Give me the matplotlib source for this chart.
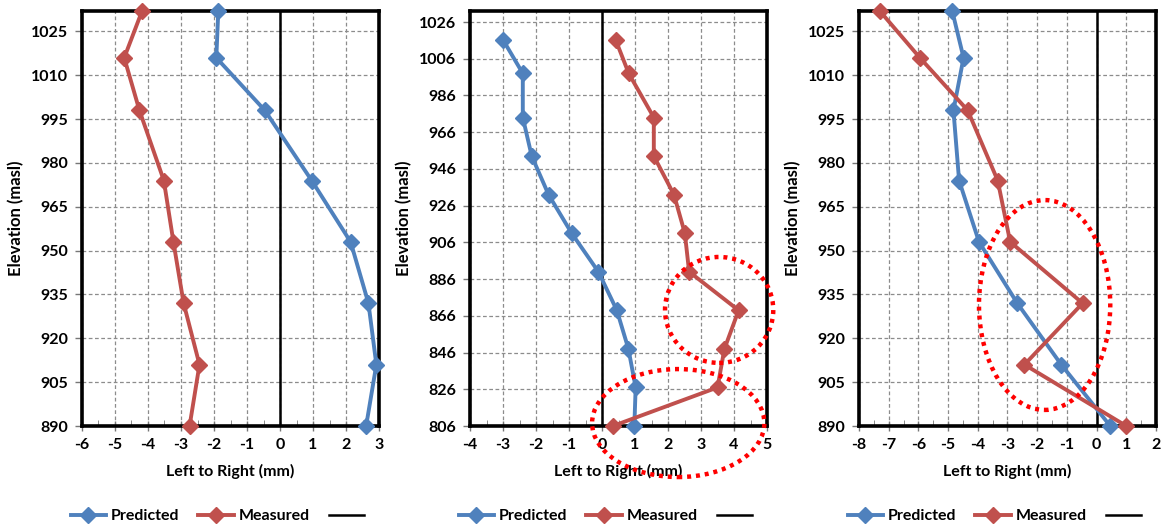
"""
Predicted vs measured left-to-right displacement along elevation, three sections
"""

import matplotlib.pyplot as plt
from matplotlib.patches import Ellipse
from matplotlib.lines import Line2D
from matplotlib.ticker import MultipleLocator

plt.rcParams['font.family'] = ['Lato', 'DejaVu Sans']
plt.rcParams['axes.unicode_minus'] = False

BLUE = '#4F81BD'
RED = '#C0504D'

# panel 1
elev_1 = [1032, 1016, 998, 974, 953, 932, 911, 890]
pred_1 = [-1.87, -1.93, -0.46, 0.96, 2.14, 2.68, 2.92, 2.61]
meas_1 = [-4.18, -4.72, -4.26, -3.52, -3.23, -2.92, -2.44, -2.74]

# panel 2
elev_2 = [1016, 998, 974, 953, 932, 911, 890, 869, 848, 827, 806]
pred_2 = [-2.99, -2.40, -2.40, -2.13, -1.62, -0.92, -0.11, 0.45, 0.80, 1.02, 0.98]
meas_2 = [0.42, 0.81, 1.57, 1.57, 2.18, 2.51, 2.64, 4.14, 3.71, 3.50, 0.33]

# panel 3
elev_3 = [1032, 1016, 998, 974, 953, 932, 911, 890]
pred_3 = [-4.86, -4.48, -4.82, -4.63, -3.96, -2.67, -1.19, 0.46]
meas_3 = [-7.30, -5.95, -4.34, -3.33, -2.91, -0.47, -2.43, 1.00]

panels = [
    dict(elev=elev_1, pred=pred_1, meas=meas_1, xlim=(-6, 3), ylim=(890, 1032),
         ystep=15, left=82, ellipses=[]),
    dict(elev=elev_2, pred=pred_2, meas=meas_2, xlim=(-4, 5), ylim=(806, 1032),
         ystep=20, left=470,
         ellipses=[(3.55, 869.2, 3.28, 57.7), (2.31, 807.6, 5.22, 58.8)]),
    dict(elev=elev_3, pred=pred_3, meas=meas_3, xlim=(-8, 2), ylim=(890, 1032),
         ystep=15, left=859, ellipses=[(-1.75, 931.4, 4.42, 71.8)]),
]

W, H = 1163, 528
fig = plt.figure(figsize=(W / 100, H / 100), dpi=100)

for p in panels:
    ax = fig.add_axes([p['left'] / W, (H - 426) / H, 297 / W, 415 / H])
    ax.set_xlim(*p['xlim'])
    ax.set_ylim(*p['ylim'])
    ax.xaxis.set_major_locator(MultipleLocator(1))
    ax.xaxis.set_minor_locator(MultipleLocator(0.5))
    ax.set_yticks(range(p['ylim'][0], p['ylim'][1] - 5, p['ystep']))

    ax.grid(True, which='major', color='#8c8c8c', linestyle=(0, (3, 2)), linewidth=0.9)
    ax.set_axisbelow(True)

    ax.axvline(0, color='black', linewidth=1.8, zorder=2)
    ax.plot(p['pred'], p['elev'], color=BLUE, marker='D', markersize=8,
            linewidth=2.8, zorder=3, clip_on=False)
    ax.plot(p['meas'], p['elev'], color=RED, marker='D', markersize=8,
            linewidth=2.8, zorder=3, clip_on=False)

    for cx, cy, ew, eh in p['ellipses']:
        ax.add_patch(Ellipse((cx, cy), ew, eh, fill=False, edgecolor='#FF0000',
                             linewidth=3.2, linestyle=(0, (0.9, 1.1)),
                             clip_on=False, zorder=5))

    for s in ax.spines.values():
        s.set_linewidth(2.6)
        s.set_color('black')

    ax.tick_params(axis='both', which='major', labelsize=11.5, width=1, color='#777777')
    ax.tick_params(axis='x', which='major', direction='inout', length=7, pad=5)
    ax.tick_params(axis='x', which='minor', direction='in', length=4, color='#777777')
    ax.tick_params(axis='y', which='major', direction='out', length=5, pad=5)
    for lab in ax.get_xticklabels() + ax.get_yticklabels():
        lab.set_fontweight('bold')

    ax.set_xlabel('Left to Right (mm)', fontsize=11.5, fontweight='bold', labelpad=9)
    ax.set_ylabel('Elevation (masl)', fontsize=12, fontweight='bold', labelpad=5)

    handles = [
        Line2D([], [], color=BLUE, marker='D', markersize=8, linewidth=2.8),
        Line2D([], [], color=RED, marker='D', markersize=8, linewidth=2.8),
        Line2D([], [], color='black', linewidth=1.8),
    ]
    ax.legend(handles, ['Predicted', 'Measured', ' '], loc='center',
              bbox_to_anchor=(0.47, -0.217), ncol=3, frameon=False,
              handlelength=2.2, handletextpad=0.3, columnspacing=1.2,
              prop={'weight': 'bold', 'size': 11.5})

fig.savefig('out.png', dpi=100)
